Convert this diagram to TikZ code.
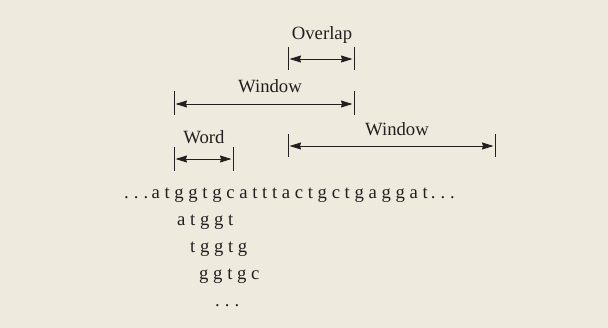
\documentclass[tikz,border=0pt]{standalone}
\usepackage{fontspec}
\setmainfont{Liberation Serif}
\usetikzlibrary{arrows.meta}
\definecolor{bg}{RGB}{238,234,221}
\definecolor{ink}{RGB}{35,31,32}
\begin{document}
\begin{tikzpicture}[x=1pt,y=-1pt,
  lbl/.style={inner sep=0pt,anchor=base,text=ink,font=\fontsize{18.7}{22}\selectfont},
  seq/.style={inner sep=0pt,anchor=base west,text=ink,font=\fontsize{18.7}{22}\selectfont},
  tick/.style={draw=ink,line width=0.8pt},
  dim/.style={draw=ink,line width=0.9pt,{Stealth[length=11.5pt,width=7pt,inset=1pt]}-{Stealth[length=11.5pt,width=7pt,inset=1pt]},shorten <=1.5pt,shorten >=1.5pt}]
\fill[bg] (0,0) rectangle (608,328);
\useasboundingbox (0,0) rectangle (608,328);
% Overlap
\coordinate (o1t) at (288,47); \coordinate (o1b) at (288,70);
\coordinate (o2t) at (354,47); \coordinate (o2b) at (354,70);
\coordinate (o1) at (288,59); \coordinate (o2) at (354,59);
\draw[tick] (o1t) -- (o1b); \draw[tick] (o2t) -- (o2b);
\draw[dim] (o1) -- (o2);
\node[lbl] (overlap) at (322,40) {Overlap};
% Window 1
\coordinate (w1t) at (174,91); \coordinate (w1b) at (174,115);
\coordinate (w2t) at (354,91); \coordinate (w2b) at (354,115);
\coordinate (w1) at (174,104); \coordinate (w2) at (354,104);
\draw[tick] (w1t) -- (w1b); \draw[tick] (w2t) -- (w2b);
\draw[dim] (w1) -- (w2);
\node[lbl] (window1) at (270,93) {Window};
% Window 2
\coordinate (v1t) at (288,134); \coordinate (v1b) at (288,157);
\coordinate (v2t) at (495,134); \coordinate (v2b) at (495,157);
\coordinate (v1) at (288,146); \coordinate (v2) at (495,146);
\draw[tick] (v1t) -- (v1b); \draw[tick] (v2t) -- (v2b);
\draw[dim] (v1) -- (v2);
\node[lbl] (window2) at (397,136) {Window};
% Word
\coordinate (d1t) at (174,147); \coordinate (d1b) at (174,171);
\coordinate (d2t) at (233,147); \coordinate (d2b) at (233,171);
\coordinate (d1) at (174,159); \coordinate (d2) at (233,159);
\draw[tick] (d1t) -- (d1b); \draw[tick] (d2t) -- (d2b);
\draw[dim] (d1) -- (d2);
\node[lbl] (word) at (204,144) {Word};
% sequences
\node[seq] (s0) at (124,199) {.\hspace{5pt}.\hspace{5pt}.\hspace{3.3pt}a t g g t g c a t t t a c t g c t g a g g a t\hspace{3pt}.\hspace{5pt}.\hspace{5pt}.};
\node[seq] (s1) at (177,226) {a t g g t};
\node[seq] (s2) at (190,253) {t g g t g};
\node[seq] (s3) at (199,280) {g g t g c};
\node[seq] (s4) at (215,307) {.\hspace{5pt}.\hspace{5pt}.};
\end{tikzpicture}
\end{document}
